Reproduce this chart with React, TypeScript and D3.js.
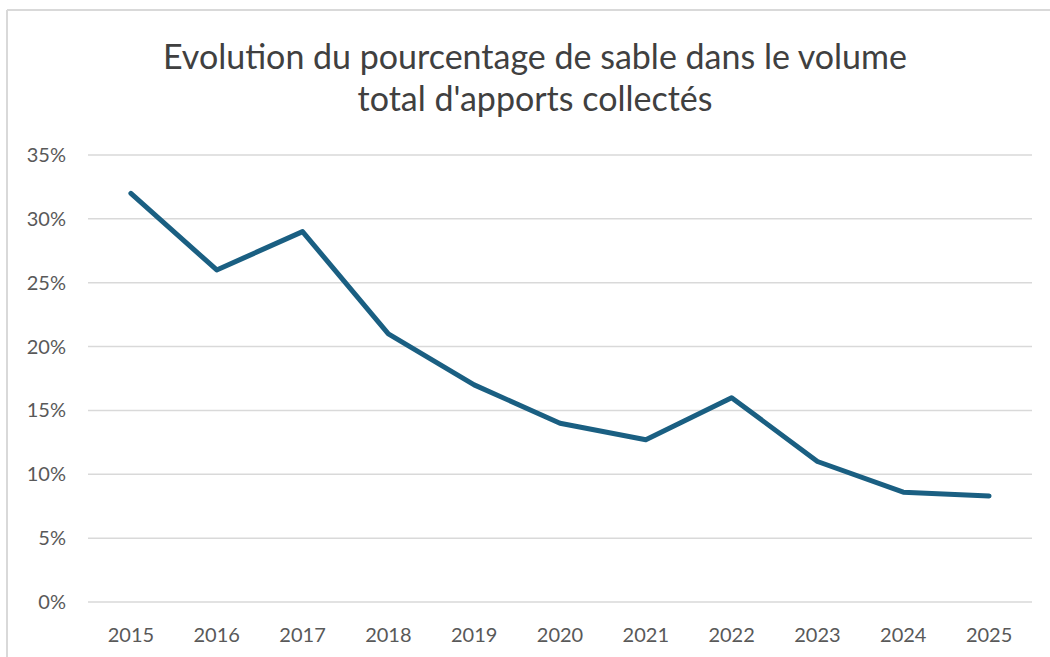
import React from "react";
import * as d3 from "d3";

const years = ["2015", "2016", "2017", "2018", "2019", "2020", "2021", "2022", "2023", "2024", "2025"];
const sandPct = [32.0, 26.0, 29.0, 21.0, 17.0, 14.0, 12.7, 16.0, 11.0, 8.6, 8.3];
const yTicks = [0, 5, 10, 15, 20, 25, 30, 35];
const titleLines = ["Evolution du pourcentage de sable dans le volume", "total d'apports collectés"];

const W = 1050;
const H = 657;
const plot = { left: 88, right: 1032, top: 155, bottom: 602 };
const FONT = "Lato, 'Open Sans', sans-serif";

export default function App() {
  const x = d3
    .scalePoint<string>()
    .domain(years)
    .range([plot.left, plot.right])
    .padding(0.5);
  const y = d3.scaleLinear().domain([0, 35]).range([plot.bottom, plot.top]);
  const line = d3
    .line<number>()
    .x((_, i) => x(years[i]) as number)
    .y((d) => y(d));

  return (
    <svg
      width={W}
      height={H}
      style={{ position: "absolute", left: 0, top: 0, background: "#fff" }}
      fontFamily={FONT}
    >
      <rect x={0} y={0} width={W} height={H} fill="#fff" />
      <line x1={7} x2={W} y1={10} y2={10} stroke="#d9d9d9" strokeWidth={2} />
      <line x1={7} x2={7} y1={10} y2={H} stroke="#d9d9d9" strokeWidth={2} />
      {titleLines.map((t, i) => (
        <text
          key={i}
          x={535}
          y={69 + i * 42}
          textAnchor="middle"
          fontSize={34}
          fill="#404040"
        >
          {t}
        </text>
      ))}
      {yTicks.map((t) => (
        <g key={t}>
          <line
            x1={plot.left}
            x2={plot.right}
            y1={y(t)}
            y2={y(t)}
            stroke="#d9d9d9"
            strokeWidth={1.5}
          />
          <text
            x={66}
            y={y(t)}
            dy="0.35em"
            textAnchor="end"
            fontSize={20}
            fill="#595959"
          >
            {t}%
          </text>
        </g>
      ))}
      {years.map((yr) => (
        <text
          key={yr}
          x={x(yr)}
          y={642}
          textAnchor="middle"
          fontSize={20}
          fill="#595959"
        >
          {yr}
        </text>
      ))}
      <path
        d={line(sandPct) || ""}
        fill="none"
        stroke="#1a5f82"
        strokeWidth={5}
        strokeLinejoin="round"
        strokeLinecap="round"
      />
    </svg>
  );
}
